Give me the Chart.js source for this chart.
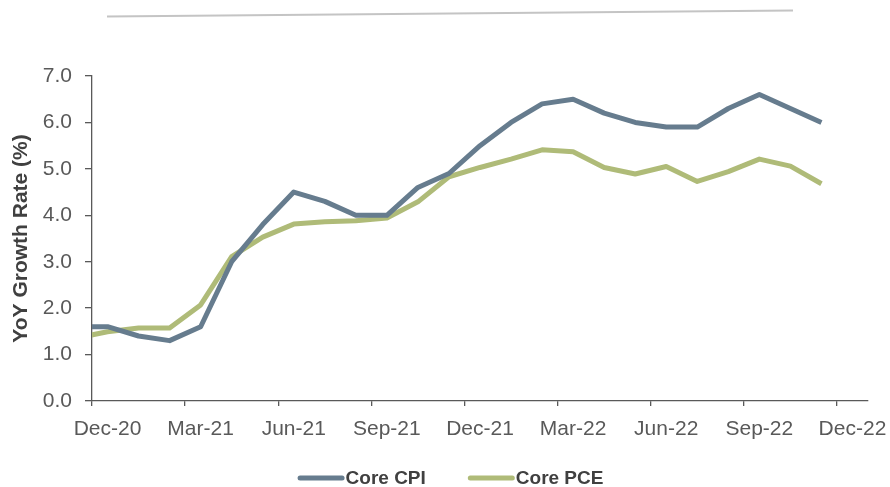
<!DOCTYPE html>
<html>
<head>
<meta charset="utf-8">
<script src="https://cdn.jsdelivr.net/npm/chart.js@4"></script>
<style>
html,body{margin:0;padding:0;background:#fff;}
#wrap{position:relative;width:890px;height:487px;}
</style>
</head>
<body>
<div id="wrap"><canvas id="c" width="890" height="487"></canvas></div>
<script>
// Monthly observations (Nov-20 .. Nov-22)
const months = ['Nov-20','Dec-20','Jan-21','Feb-21','Mar-21','Apr-21','May-21','Jun-21','Jul-21','Aug-21','Sep-21','Oct-21','Nov-21','Dec-21','Jan-22','Feb-22','Mar-22','Apr-22','May-22','Jun-22','Jul-22','Aug-22','Sep-22','Oct-22','Nov-22'];
const coreCPI = [1.6,1.6,1.4,1.3,1.6,3.0,3.8,4.5,4.3,4.0,4.0,4.6,4.9,5.5,6.0,6.4,6.5,6.2,6.0,5.9,5.9,6.3,6.6,6.3,6.0];
const corePCE = [1.36,1.49,1.57,1.57,2.07,3.11,3.53,3.81,3.86,3.88,3.94,4.29,4.83,5.03,5.21,5.41,5.37,5.03,4.89,5.05,4.73,4.94,5.21,5.06,4.68];
const xTickLabels = ['Dec-20','Mar-21','Jun-21','Sep-21','Dec-21','Mar-22','Jun-22','Sep-22','Dec-22'];
const yTickValues = [0,1,2,3,4,5,6,7];
const seriesNames = ['Core CPI','Core PCE'];

// month index relative to start of Dec-20, points placed mid-month
const toPoints = arr => arr.map((v,i)=>({x: i - 0.5, y: v}));

const AXIS = '#595959';
const TEXT = '#595959';
const CPI_COLOR = '#667c8e';
const PCE_COLOR = '#afbb78';

const decoPlugin = {
  id:'deco',
  beforeDraw(chart){
    const ctx = chart.ctx;
    ctx.save();
    ctx.strokeStyle = '#c4c4c4';
    ctx.lineWidth = 2;
    ctx.beginPath();
    ctx.moveTo(107,16.5);
    ctx.lineTo(793,10.5);
    ctx.stroke();
    ctx.restore();
  },
  afterDraw(chart){
    const ctx = chart.ctx;
    ctx.save();
    ctx.font = 'bold 19px "Liberation Sans", Arial, sans-serif';
    ctx.textBaseline = 'middle';
    const lineW = 47, gap = 43, y = 478;
    const ds = chart.data.datasets;
    const widths = ds.map(d => lineW + ctx.measureText(d.label).width);
    const total = widths.reduce((a,b)=>a+b,0) + gap*(ds.length-1);
    let x = 450 - total/2;
    ds.forEach((d,i)=>{
      ctx.strokeStyle = d.borderColor;
      ctx.lineWidth = 5;
      ctx.lineCap = 'round';
      ctx.beginPath();
      ctx.moveTo(x+2.5,y);
      ctx.lineTo(x+lineW-2.5,y);
      ctx.stroke();
      ctx.fillStyle = '#404040';
      ctx.fillText(d.label, x+lineW+1, y+1);
      x += widths[i] + gap;
    });
    ctx.restore();
  }
};

new Chart(document.getElementById('c'), {
  type:'line',
  data:{
    datasets:[
      {label:seriesNames[0], data:toPoints(coreCPI), borderColor:CPI_COLOR, backgroundColor:CPI_COLOR, borderWidth:5, pointRadius:0, tension:0, borderJoinStyle:'round', clip:{left:0,top:false,right:false,bottom:false}},
      {label:seriesNames[1], data:toPoints(corePCE), borderColor:PCE_COLOR, backgroundColor:PCE_COLOR, borderWidth:5, pointRadius:0, tension:0, borderJoinStyle:'round', clip:{left:0,top:false,right:false,bottom:false}}
    ]
  },
  options:{
    responsive:false,
    animation:false,
    events:[],
    layout:{padding:{top:76,right:22,left:0,bottom:29}},
    plugins:{legend:{display:false},tooltip:{enabled:false},title:{display:false}},
    scales:{
      x:{
        type:'linear',
        min:0,max:25,
        afterBuildTicks(scale){ scale.ticks = xTickLabels.map((_,i)=>({value:i*3})); },
        afterFit(scale){ scale.height = 57; },
        ticks:{
          callback:(v)=> xTickLabels[Math.round(v/3)],
          labelOffset:15.5,
          padding:11,
          color:TEXT,
          font:{family:'"Liberation Sans", Arial, sans-serif', size:21},
          maxRotation:0, autoSkip:false
        },
        grid:{display:true, drawOnChartArea:false, drawTicks:true, tickLength:5, color:AXIS, lineWidth:1.3},
        border:{display:true, color:AXIS, width:1.3}
      },
      y:{
        min:0,max:7,
        afterBuildTicks(scale){ scale.ticks = yTickValues.map(v=>({value:v})); },
        afterFit(scale){ scale.width = 92; },
        ticks:{
          callback:(v)=> Number(v).toFixed(1),
          padding:13,
          color:TEXT,
          font:{family:'"Liberation Sans", Arial, sans-serif', size:21}
        },
        grid:{display:true, drawOnChartArea:false, drawTicks:true, tickLength:7, color:AXIS, lineWidth:1.3},
        border:{display:true, color:AXIS, width:1.3},
        title:{display:true, text:'YoY Growth Rate (%)', color:'#404040', padding:{top:9,bottom:0},
          font:{family:'"Liberation Sans", Arial, sans-serif', size:21, weight:'bold'}}
      }
    }
  },
  plugins:[decoPlugin]
});
</script>
</body>
</html>
